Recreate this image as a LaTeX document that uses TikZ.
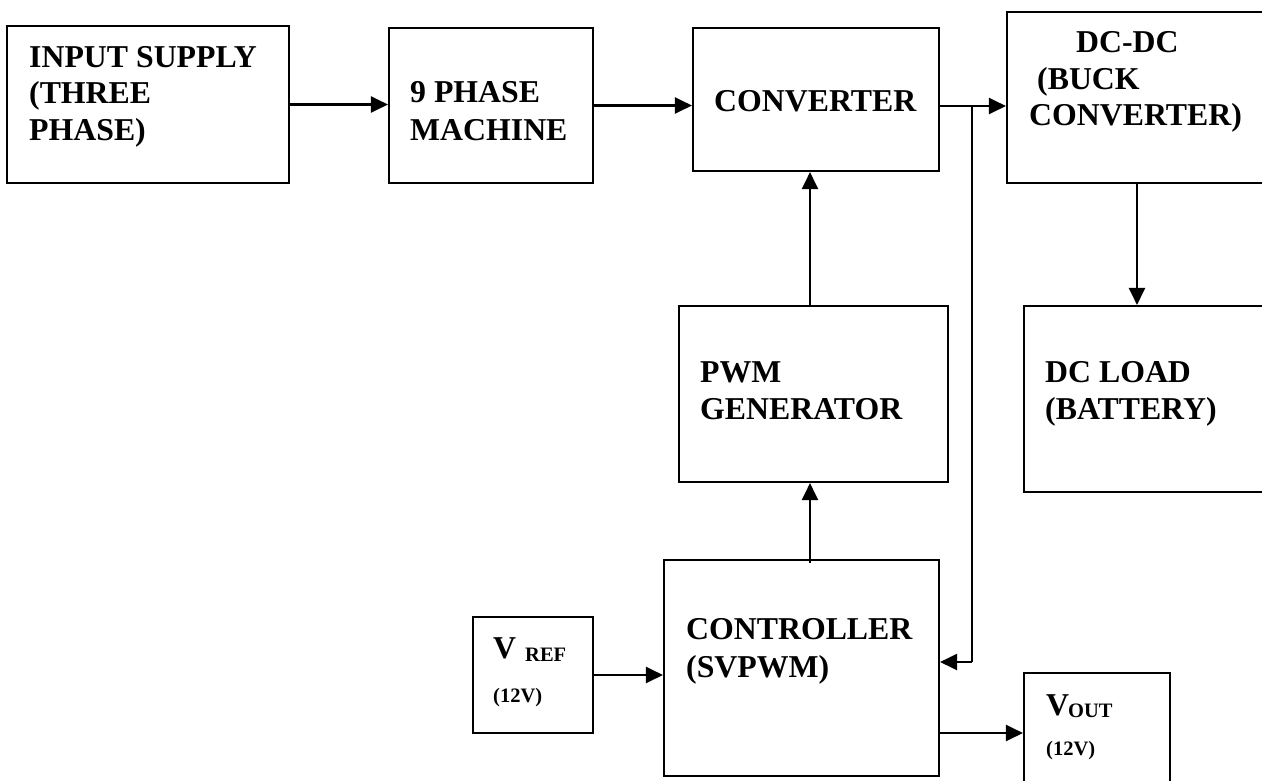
\documentclass[tikz,border=0pt]{standalone}
\usepackage{fontspec}
\setmainfont{Liberation Serif}
\usetikzlibrary{arrows.meta}
\begin{document}
\begin{tikzpicture}[x=1pt,y=-1pt,
  box/.style={draw=black,line width=2.1pt,rectangle,inner sep=0pt,fill=none},
  arr/.style={line width=2.1pt,-{Triangle[length=17pt,width=16pt]}},
  ln/.style={line width=2.1pt},
  big/.style={anchor=base west,inner sep=0pt,font=\fontsize{31.8}{36}\selectfont\bfseries},
  sub/.style={anchor=base west,inner sep=0pt,font=\fontsize{20.5}{24}\selectfont\bfseries}]
\useasboundingbox (0,0) rectangle (1262,780);
\clip (0,0) rectangle (1262,780);
\fill[white] (0,0) rectangle (1262,780);

% boxes
\node[box,minimum width=282pt,minimum height=157pt] (inp) at (148,104.5) {};
\node[box,minimum width=204pt,minimum height=155pt] (mach) at (491,105.5) {};
\node[box,minimum width=246pt,minimum height=143pt] (conv) at (816,99.5) {};
\node[box,minimum width=268pt,minimum height=171pt] (dcdc) at (1141,97.5) {};
\node[box,minimum width=251pt,minimum height=186pt] (load) at (1149.5,399) {};
\node[box,minimum width=269pt,minimum height=176pt] (pwm) at (813.5,394) {};
\node[box,minimum width=275pt,minimum height=216pt] (ctrl) at (801.5,668) {};
\node[box,minimum width=120pt,minimum height=116pt] (vref) at (533,675) {};
\node[box,minimum width=146pt,minimum height=120pt] (vout) at (1097,733) {};

% texts
\node[big] (t1a) at (29,67) {INPUT SUPPLY};
\node[big] (t1b) at (29,103.5) {(THREE};
\node[big] (t1c) at (29,140.5) {PHASE)};
\node[big] (t2a) at (410,102) {9 PHASE};
\node[big] (t2b) at (410,140) {MACHINE};
\node[big] (t3) at (714,111) {CONVERTER};
\node[big] (t4a) at (1076,52) {DC-DC};
\node[big] (t4b) at (1037,89) {(BUCK};
\node[big] (t4c) at (1029,125) {CONVERTER)};
\node[big] (t5a) at (700,382) {PWM};
\node[big] (t5b) at (700,419) {GENERATOR};
\node[big] (t6a) at (1045,382) {DC LOAD};
\node[big] (t6b) at (1045,419) {(BATTERY)};
\node[big] (t7a) at (686,639) {CONTROLLER};
\node[big] (t7b) at (686,677) {(SVPWM)};
\node[big] (t8a) at (493,658) {V};
\node[sub] (t8b) at (525,661) {REF};
\node[sub] (t8c) at (493,702) {(12V)};
\node[big] (t9a) at (1046,715) {V};
\node[sub] (t9b) at (1068,717) {OUT};
\node[sub] (t9c) at (1046,755) {(12V)};

% helper coordinates
\coordinate (j) at (972,106);
\coordinate (f) at (972,662);
\coordinate (pv) at (810,0);
\coordinate (dv) at (1137,0);
\coordinate (vo) at (0,733);

% connectors
\draw[arr] (inp.east) -- (inp.east -| mach.west);
\draw[arr] (mach.east) -- (mach.east -| conv.west);
\draw[ln] (conv.east |- j) -- (j);
\draw[arr] (j) -- (j -| dcdc.west);
\draw[ln] (j) -- (f);
\draw[arr] (f) -- (f -| ctrl.east);
\draw[arr] (pwm.north -| pv) -- (conv.south -| pv);
\draw[arr] ([yshift=-4pt]ctrl.north -| pv) -- (pwm.south -| pv);
\draw[arr] (dcdc.south -| dv) -- (load.north -| dv);
\draw[arr] (vref.east) -- (vref.east -| ctrl.west);
\draw[arr] (ctrl.east |- vo) -- (vo -| vout.west);
\end{tikzpicture}
\end{document}
